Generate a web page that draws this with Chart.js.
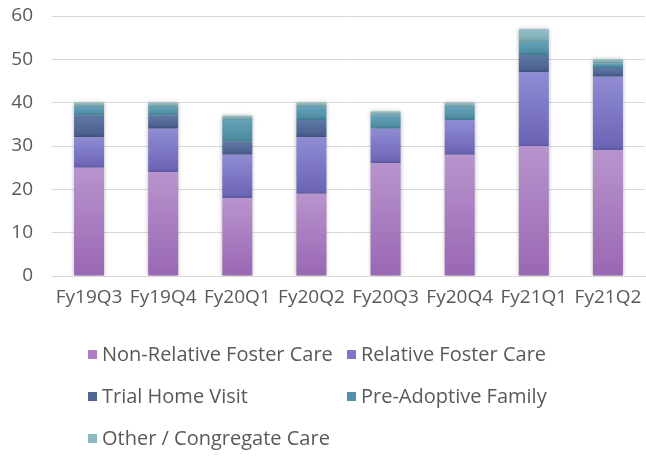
<!DOCTYPE html>
<html>
<head>
<meta charset="utf-8">
<script src="https://cdn.jsdelivr.net/npm/chart.js@4"></script>
<style>
html,body{margin:0;padding:0;background:#fff;}
#wrap{width:646px;height:456px;position:relative;}
</style>
</head>
<body>
<div id="wrap"><canvas id="c" width="646" height="456"></canvas></div>
<script>
const categories = ["Fy19Q3","Fy19Q4","Fy20Q1","Fy20Q2","Fy20Q3","Fy20Q4","Fy21Q1","Fy21Q2"];
const nonRelative = [25,24,18,19,26,28,30,29];
const relative = [7,10,10,13,8,8,17,17];
const trialHome = [5,3,3,4,0,0,4,2];
const preAdoptive = [2,2,5,3,3,3,3,1];
const otherCongregate = [1,1,1,1,1,1,3,1];
const yTicks = [0,10,20,30,40,50,60];

const seriesNames = ["Non-Relative Foster Care","Relative Foster Care","Trial Home Visit","Pre-Adoptive Family","Other / Congregate Care"];
const seriesData = [nonRelative, relative, trialHome, preAdoptive, otherCongregate];
const topColors = ["#b894cd","#908cd4","#5f78a6","#65a2ba","#98c0c7"];
const botColors = ["#9967b3","#6a63b5","#485c8c","#4a889f","#7aa9b2"];
const legendColors = ["#ae7dc6","#7f76cc","#50658f","#5092ad","#8db9c1"];

const FONT = "'Open Sans', Lato, sans-serif";

function gradFill(dsIndex){
  return function(ctx){
    const chart = ctx.chart;
    if (ctx.type !== 'data' || !chart.chartArea) return topColors[dsIndex];
    const y = chart.scales.y;
    let base = 0;
    for (let k = 0; k < dsIndex; k++) base += seriesData[k][ctx.dataIndex];
    const top = base + seriesData[dsIndex][ctx.dataIndex];
    const y0 = y.getPixelForValue(top), y1 = y.getPixelForValue(base);
    if (!(y1 > y0)) return topColors[dsIndex];
    const g = chart.ctx.createLinearGradient(0, y0, 0, y1);
    g.addColorStop(0, topColors[dsIndex]);
    g.addColorStop(1, botColors[dsIndex]);
    return g;
  };
}

const datasets = seriesNames.map((name, i) => ({
  label: name,
  data: seriesData[i],
  backgroundColor: gradFill(i),
  borderWidth: 0,
  barPercentage: 0.405,
  categoryPercentage: 1.0
}));

const shadowPlugin = {
  id: 'barShadow',
  beforeDatasetsDraw(chart){
    const c = chart.ctx;
    c.save();
    c.shadowColor = 'rgba(0,0,0,0.28)';
    c.shadowBlur = 4;
    c.shadowOffsetX = 0;
    c.shadowOffsetY = 0;
  },
  afterDatasetsDraw(chart){ chart.ctx.restore(); }
};

const legendPlugin = {
  id: 'gridLegend',
  afterDraw(chart){
    const c = chart.ctx;
    c.save();
    c.font = "20px " + FONT;
    c.textBaseline = 'middle';
    const cols = [88, 347];
    const rows = [354, 396, 438];
    chart.data.datasets.forEach((ds, i) => {
      const x = cols[i % 2], y = rows[Math.floor(i / 2)];
      c.fillStyle = legendColors[i];
      c.fillRect(x, y - 4, 9, 9);
      c.fillStyle = '#595959';
      c.fillText(ds.label, x + 14, y + 1);
    });
    c.restore();
  }
};

new Chart(document.getElementById('c'), {
  type: 'bar',
  data: { labels: categories, datasets },
  plugins: [shadowPlugin, legendPlugin],
  options: {
    responsive: false,
    animation: false,
    devicePixelRatio: 1,
    layout: { padding: { top: 16, right: 1, bottom: 140, left: 0 } },
    plugins: { legend: { display: false }, tooltip: { enabled: false } },
    scales: {
      x: {
        stacked: true,
        grid: { display: false, drawTicks: false },
        border: { display: true, color: '#d9d9d9', width: 1 },
        ticks: { color: '#595959', font: { size: 19, family: FONT }, padding: 10, maxRotation: 0, autoSkip: false },
        afterFit(s){ s.height = 40; s.paddingLeft = 0; s.paddingRight = 0; }
      },
      y: {
        stacked: true,
        min: 0, max: 60,
        afterBuildTicks(s){ s.ticks = yTicks.map(v => ({ value: v })); },
        grid: { color: '#d9d9d9', drawTicks: false },
        border: { display: false },
        ticks: { color: '#595959', font: { size: 19, family: FONT }, padding: 19 },
        afterFit(s){ s.width = 52; s.paddingTop = 0; s.paddingBottom = 0; }
      }
    }
  }
});
</script>
</body>
</html>
